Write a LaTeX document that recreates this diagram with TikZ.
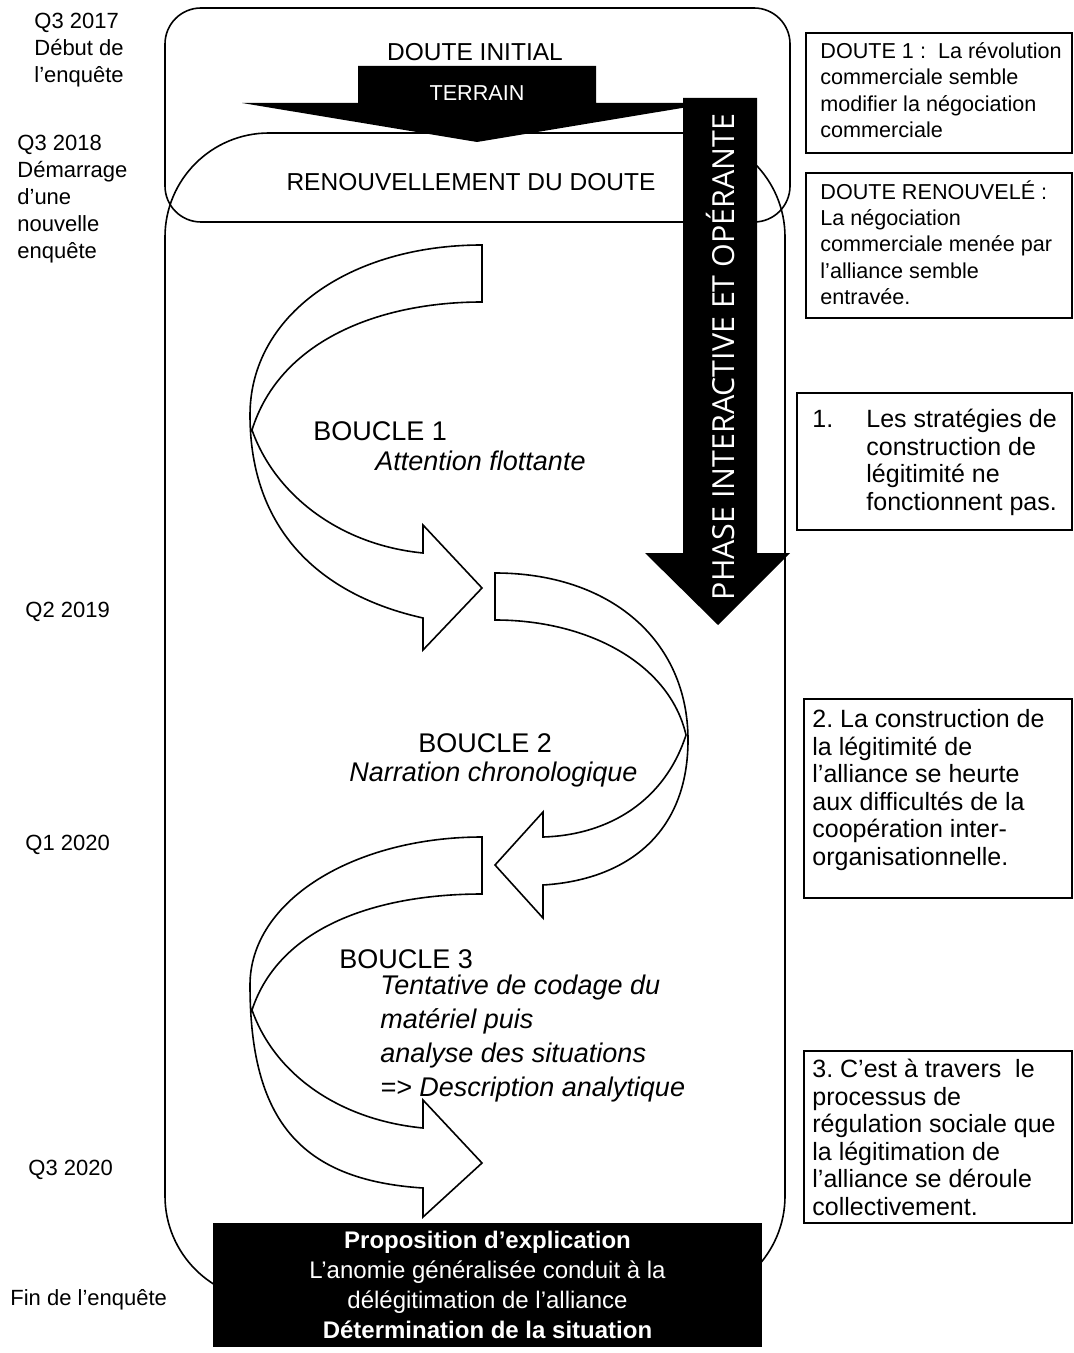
\documentclass[tikz,border=0pt]{standalone}
\usepackage{fontspec}
\setmainfont{Liberation Sans}
\newfontfamily\phasefont{Open Sans}
\usetikzlibrary{positioning}
\frenchspacing

\begin{document}
\begin{tikzpicture}[
		x=0.5pt,y=-0.5pt,
		frame/.style={draw=black,line width=0.8pt},
		loopshape/.style={draw=black,fill=white,line width=0.8pt,line join=miter},
		big/.style={font=\fontsize{12.25}{14}\selectfont},
		boucle/.style={font=\fontsize{13.5}{17}\selectfont,anchor=west,inner sep=0pt},
		loopitem/.style={boucle,font=\fontsize{13.5}{17}\selectfont\itshape,align=left},
		quand/.style={font=\fontsize{11}{13.5}\selectfont,align=left,anchor=west,inner sep=0pt},
		notebox/.style={draw=black,line width=0.8pt,anchor=north west,inner sep=0pt},
		notetxt/.style={align=left,anchor=north west,inner sep=0pt,font=\fontsize{12.5}{13.75}\selectfont},
		smalltxt/.style={notetxt,font=\fontsize{10.8}{13.2}\selectfont}
		]
		\useasboundingbox (0,0) rectangle (1073,1353);
		
		% --- Doubt frames
		\draw[frame,rounded corners=18pt] (165,8) rectangle (790,222);
		\draw[frame,rounded corners=52pt] (165,133) rectangle (785,1300);
		
		\node[big] (initial) at (475,52) {DOUTE INITIAL};
		\node[big] (renouv) at (471,182) {RENOUVELLEMENT DU DOUTE};
		
		% --- Terrain arrow
		\fill (358,66) -- (596,66) -- (596,103) -- (712,103) -- (477,142) -- (242,103) -- (358,103) -- cycle;
		\node[text=white,font=\fontsize{10.8}{13}\selectfont] (terrain) at (477,93) {TERRAIN};
		
		% --- Phase arrow
		\fill (683,98) -- (757,98) -- (757,553) -- (790,553) -- (718,625) -- (645,553) -- (683,553) -- cycle;
		\node[rotate=90,text=white,font=\phasefont\fontsize{15.2}{18}\selectfont] (phase) at (720,357) {PHASE INTERACTIVE ET OPÉRANTE};
		
		% --- Loop 1
		\draw[loopshape] (482,245) .. controls (350,245) and (250,315) .. (250,415)
		.. controls (250,530) and (320,595) .. (423,618)
		-- (423,650) -- (482,588) -- (423,525) -- (423,553)
		.. controls (340,545) and (275,495) .. (252,430)
		.. controls (280,340) and (380,302) .. (482,302) -- cycle;
		
		% --- Loop 2
		\draw[loopshape] (495,573) .. controls (610,573) and (688,640) .. (688,740)
		.. controls (688,835) and (625,880) .. (543,885)
		-- (543,918) -- (495,865) -- (543,812) -- (543,837)
		.. controls (610,835) and (665,800) .. (686,735)
		.. controls (670,665) and (590,620) .. (495,620) -- cycle;
		
		% --- Loop 3
		\draw[loopshape] (482,837) .. controls (355,837) and (250,900) .. (250,985)
		.. controls (250,1120) and (300,1180) .. (423,1188)
		-- (423,1217) -- (482,1163) -- (423,1100) -- (423,1128)
		.. controls (340,1120) and (275,1075) .. (252,1010)
		.. controls (280,925) and (380,894) .. (482,894) -- cycle;
		
		\node[boucle] (b1) at (313,431) {BOUCLE 1};
		\node[loopitem] (b1txt) at (375,461) {Attention flottante};
		\node[boucle] (b2) at (418,743) {BOUCLE 2};
		\node[loopitem] (b2txt) at (349,775) {Narration chronologique};
		\node[boucle] (b3) at (339,959) {BOUCLE 3};
		\node[loopitem] (b3txt) at (380,1039) {Tentative de codage du\\matériel puis\\analyse des situations\\=> Description analytique};
		
		% --- Findings on the right
		\node[notebox,minimum width=133pt,minimum height=60pt] (doute1) at (805,32) {};
		\node[smalltxt] (doute1txt) at ([xshift=7.5pt,yshift=-5pt]doute1.north west) {DOUTE 1 :\ \ La révolution\\commerciale semble\\modifier la négociation\\commerciale};
		
		\node[notebox,minimum width=133pt,minimum height=72.5pt] (doute2) at (805,172) {};
		\node[smalltxt] (doute2txt) at ([xshift=7.5pt,yshift=-4pt]doute2.north west) {DOUTE RENOUVELÉ :\\La négociation\\commerciale menée par\\l’alliance semble\\entravée.};
		
		\node[notebox,minimum width=137.5pt,minimum height=68.5pt] (res1) at (796,392) {};
		\node[notetxt] (res1txt) at ([xshift=8pt,yshift=-8.5pt]res1.north west) {\makebox[27pt][l]{1.}Les stratégies de\\\hspace*{27pt}construction de\\\hspace*{27pt}légitimité ne\\\hspace*{27pt}fonctionnent pas.};
		
		\node[notebox,minimum width=134pt,minimum height=99.5pt] (res2) at (803,698) {};
		\node[notetxt] (res2txt) at ([xshift=4.5pt,yshift=-5.5pt]res2.north west) {2. La construction de\\la légitimité de\\l’alliance se heurte\\aux difficultés de la\\coopération inter-\\organisationnelle.};
		
		\node[notebox,minimum width=134pt,minimum height=86pt] (res3) at (803,1050) {};
		\node[notetxt] (res3txt) at ([xshift=4.5pt,yshift=-4.5pt]res3.north west) {3. C’est à travers\ \ le\\processus de\\régulation sociale que\\la légitimation de\\l’alliance se déroule\\collectivement.};
		
		% --- Timeline on the left
		\node[quand] (q17) at (34,50) {Q3 2017\\Début de\\l’enquête};
		\node[quand] (q18) at (17,199) {Q3 2018\\Démarrage\\d’une\\nouvelle\\enquête};
		\node[quand] (q19) at (25,612) {Q2 2019};
		\node[quand] (q20a) at (25,845) {Q1 2020};
		\node[quand] (q20c) at (28,1170) {Q3 2020};
		\node[quand] (fin) at (10,1300) {Fin de l’enquête};
		
		% --- Final proposition
		\node[fill=black,text=white,minimum width=274.5pt,minimum height=62pt,align=center,inner sep=0pt,font=\fontsize{12}{15}\selectfont] (explication) at (487.5,1285) {\textbf{Proposition d’explication}\\L’anomie généralisée conduit à la\\délégitimation de l’alliance\\\textbf{Détermination de la situation}};
		
	\end{tikzpicture}
\end{document}
